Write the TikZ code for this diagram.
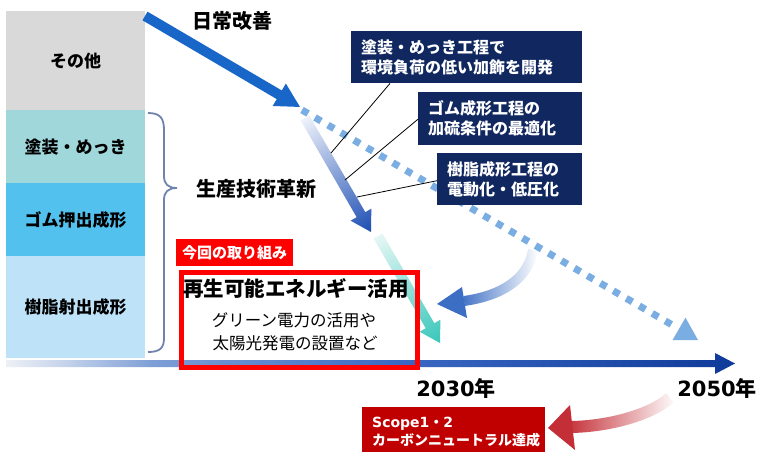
\documentclass[tikz,border=0pt]{standalone}
\usepackage{fontspec}
\setmainfont{Noto Sans CJK JP}
\newfontfamily\latfont{DejaVu Sans}
\usetikzlibrary{calc,fadings}
\definecolor{bandgray}{HTML}{D9D9D9}
\definecolor{bandteal}{HTML}{A0D7DB}
\definecolor{bandcyan}{HTML}{52C1EE}
\definecolor{bandlight}{HTML}{BEE3F8}
\definecolor{navy}{HTML}{10275F}
\definecolor{arrowA}{HTML}{1766C8}
\definecolor{dotblue}{HTML}{7AAEE2}
\definecolor{arrowB}{HTML}{1C4DB3}
\definecolor{arrowBs}{HTML}{EEF2FA}
\definecolor{tealA}{HTML}{38C6BA}
\definecolor{tealAs}{HTML}{E6F7F5}
\definecolor{curveblue}{HTML}{3C6EC4}
\definecolor{curvered}{HTML}{C42E36}
\definecolor{scopered}{HTML}{C00000}
\definecolor{redbox}{HTML}{FF0000}
\definecolor{bracecol}{HTML}{6F84AB}
\definecolor{axA}{HTML}{EEF0F6}
\definecolor{axB}{HTML}{C5D3EC}
\definecolor{axC}{HTML}{7E9FD6}
\definecolor{axD}{HTML}{3A68C2}
\definecolor{axE}{HTML}{0F3A9A}
\pgfdeclarehorizontalshading{axisshade}{100bp}{color(0bp)=(axA); color(25bp)=(axA); color(29bp)=(axB); color(35bp)=(axC); color(52bp)=(axD); color(75bp)=(axE); color(100bp)=(axE)}
\tikzset{
  band/.style={minimum width=139pt, inner sep=0pt, anchor=north west, font=\bfseries\fontsize{17}{20}\selectfont},
  navybox/.style={fill=navy, text=white, anchor=north west, align=left, inner xsep=10pt, inner ysep=0pt, font=\bfseries\fontsize{16}{20}\selectfont},
  leader/.style={draw=black, line width=0.8pt},
  bigtext/.style={font=\bfseries\fontsize{20}{24}\selectfont, inner sep=0pt},
  yeartext/.style={font=\bfseries\fontsize{21}{24}\selectfont, inner sep=0pt},
}
\begin{document}
\begin{tikzpicture}[x=1pt,y=1pt]
\useasboundingbox (0,0) rectangle (760,-452);
\fill[white] (0,0) rectangle (760,-452);

% left bands
\node[band, fill=bandgray, minimum height=99pt] (b0) at (6,-11) {その他};
\node[band, fill=bandteal, minimum height=73pt] (b1) at (6,-110) {塗装・めっき};
\node[band, fill=bandcyan, minimum height=73pt] (b2) at (6,-183) {ゴム押出成形};
\node[band, fill=bandlight, minimum height=102pt] (b3) at (6,-256) {樹脂射出成形};

% time axis
\shade[shading=axisshade] (6,-360) -- (715,-360) -- (715,-353) -- (735,-363.5) -- (715,-374) -- (715,-367) -- (6,-367) -- cycle;

% brace
\draw[bracecol, line width=1.8pt] (148,-113) .. controls (160,-113) and (164,-118) .. (164,-130) -- (164,-176) .. controls (164,-184) and (168,-188) .. (177,-188) .. controls (168,-188) and (164,-192) .. (164,-200) -- (164,-338) .. controls (164,-348) and (160,-352) .. (148,-352);

% dotted trend
\coordinate (dotS) at (302,-110);
\coordinate (dotE) at (675,-326.6);
\draw[dotblue, line width=7pt, dash pattern=on 7pt off 8pt] (dotS) -- (dotE);
\fill[dotblue] (698,-340) -- (685.5,-317.7) -- (672.5,-340.1) -- cycle;

% daily improvement arrow
\begin{scope}[shift={(145pt,-16pt)}, rotate=-30.4]
\fill[arrowA] (0,5) -- (155.7,5) -- (155.7,13) -- (179.7,0) -- (155.7,-13) -- (155.7,-5) -- (0,-5) -- cycle;
\end{scope}

% production technology arrow
\begin{scope}[transform canvas={shift={(305pt,-118pt)}, rotate=-59.93}]
\shade[left color=arrowBs, right color=arrowB] (0,5) -- (111.7,5) -- (111.7,12) -- (131.7,0) -- (111.7,-12) -- (111.7,-5) -- (0,-5) -- cycle;
\end{scope}

% renewable energy arrow
\begin{scope}[transform canvas={shift={(378pt,-236pt)}, rotate=-59.9}]
\shade[left color=tealAs, right color=tealA] (0,5) -- (103.7,5) -- (103.7,12) -- (123.7,0) -- (103.7,-12) -- (103.7,-5) -- (0,-5) -- cycle;
\end{scope}

% curved blue arrow
\draw[curveblue, line width=10pt, path fading=east] (533,-250) .. controls (528,-280) and (500,-296) .. (464,-301);
\fill[curveblue] (437,-304) -- (462,-287) -- (467,-318) -- cycle;

% navy boxes
\node[navybox, text width=211pt, minimum height=52pt] (nb1) at (351,-31) {塗装・めっき工程で\\環境負荷の低い加飾を開発};
\node[navybox, text width=144pt, minimum height=53pt] (nb2) at (418,-92) {ゴム成形工程の\\加硫条件の最適化};
\node[navybox, text width=125pt, minimum height=52pt] (nb3) at (437,-153) {樹脂成形工程の\\電動化・低圧化};
\coordinate (p1) at (331,-153);
\coordinate (p2) at (345,-180);
\coordinate (p3) at (357,-197);
\draw[leader] ($(nb1.south west)+(39,0)$) -- (p1);
\draw[leader] ($(nb2.west)+(0,-0.5)$) -- (p2);
\draw[leader] ($(nb3.west)+(0,-1.5)$) -- (p3);

% labels
\node[bigtext] (daily) at (232,-21) {日常改善};
\node[bigtext] (tech) at (256,-189) {生産技術革新};

% this initiative box
\node[draw=redbox, line width=5pt, minimum width=236pt, minimum height=95pt, anchor=north west, inner sep=0pt] (rb) at (178.5,-269.5) {};
\node[fill=redbox, text=white, anchor=south west, minimum width=117pt, minimum height=27pt, inner sep=0pt, font=\bfseries\fontsize{15}{18}\selectfont] (tab) at (176,-266) {今回の取り組み};
\node[font=\bfseries\fontsize{20.5}{24}\selectfont, inner sep=0pt] (t1) at (296,-289) {再生可能エネルギー活用};
\node[font=\fontsize{16.5}{20}\selectfont, inner sep=0pt] (t2) at (294,-320) {グリーン電力の活用や};
\node[font=\fontsize{16.5}{20}\selectfont, inner sep=0pt] (t3) at (295,-343) {太陽光発電の設置など};

% years
\node[yeartext] (y1) at (456,-388) {{\latfont\bfseries 2030}年};
\node[yeartext] (y2) at (717,-388) {{\latfont\bfseries 2050}年};

% red curved arrow
\draw[curvered, line width=12pt, path fading=east] (670,-398) .. controls (650,-415) and (610,-426) .. (572,-427);
\fill[curvered] (548,-428) -- (570,-405) -- (575,-450) -- cycle;

% scope box
\node[fill=scopered, anchor=north west, minimum width=183pt, minimum height=52pt, inner sep=0pt] (sb) at (362,-407) {};
\node[anchor=base west, text=white, inner sep=0pt, font=\bfseries\fontsize{14}{18}\selectfont] (s1) at (372,-427) {{\latfont\bfseries Scope1}・{\latfont\bfseries 2}};
\node[anchor=base west, text=white, inner sep=0pt, font=\bfseries\fontsize{14}{18}\selectfont] (s2) at (372,-445) {カーボンニュートラル達成};
\end{tikzpicture}
\end{document}
